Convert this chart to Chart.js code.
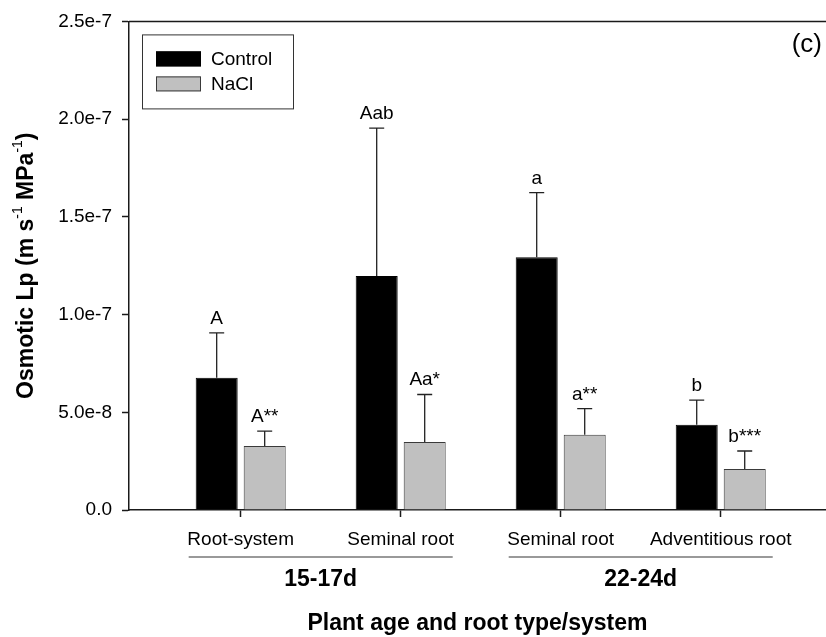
<!DOCTYPE html>
<html>
<head>
<meta charset="utf-8">
<script src="https://cdn.jsdelivr.net/npm/chart.js@4"></script>
<style>
  body { margin: 0; background: #fff; }
</style>
</head>
<body>
<canvas id="lpChart" width="826" height="637"></canvas>
<script>
// data
var categories = ["Root-system", "Seminal root", "Seminal root", "Adventitious root"];
var groups = ["15-17d", "22-24d"];
var groupOf = [0, 0, 1, 1];

var control = [6.77e-8, 1.197e-7, 1.293e-7, 4.36e-8];
var controlErr = [2.29e-8, 7.57e-8, 3.31e-8, 1.26e-8];
var controlLetters = ["A", "Aab", "a", "b"];

var nacl = [3.27e-8, 3.48e-8, 3.85e-8, 2.10e-8];
var naclErr = [0.77e-8, 2.43e-8, 1.34e-8, 0.92e-8];
var naclLetters = ["A**", "Aa*", "a**", "b***"];

var yTicks = [0, 5e-8, 1e-7, 1.5e-7, 2e-7, 2.5e-7];
var yTickLabels = ["0.0", "5.0e-8", "1.0e-7", "1.5e-7", "2.0e-7", "2.5e-7"];

var FONT = "'Liberation Sans', Arial, Helvetica, sans-serif";
var AXIS = "#1a1a1a";

function points(vals) {
  return vals.map(function(v, i) { return { x: i + 1, y: v }; });
}

// error bars, letters, legend, group labels, titles
var extras = {
  id: "extras",
  afterDatasetsDraw: function(chart) {
    var ctx = chart.ctx;
    var y = chart.scales.y;
    var sets = [[control, controlErr, controlLetters], [nacl, naclErr, naclLetters]];
    ctx.save();
    sets.forEach(function(s, d) {
      var meta = chart.getDatasetMeta(d);
      meta.data.forEach(function(bar, i) {
        var top = y.getPixelForValue(s[0][i] + s[1][i]);
        ctx.strokeStyle = "#222";
        ctx.lineWidth = 1.3;
        ctx.beginPath();
        ctx.moveTo(bar.x, bar.y);
        ctx.lineTo(bar.x, top);
        ctx.moveTo(bar.x - 7.5, top);
        ctx.lineTo(bar.x + 7.5, top);
        ctx.stroke();
        ctx.fillStyle = "#000";
        ctx.font = "19px " + FONT;
        ctx.textAlign = "center";
        ctx.textBaseline = "alphabetic";
        ctx.fillText(s[2][i], bar.x, top - 9);
      });
    });
    ctx.restore();
  },
  afterDraw: function(chart) {
    var ctx = chart.ctx;
    var a = chart.chartArea;
    var x = chart.scales.x;
    ctx.save();

    // top frame line
    ctx.strokeStyle = AXIS;
    ctx.lineWidth = 1.5;
    ctx.beginPath();
    ctx.moveTo(a.left, a.top);
    ctx.lineTo(a.right, a.top);
    ctx.stroke();

    // legend
    var lx = a.left + 13, ly = a.top + 13;
    ctx.lineWidth = 1;
    ctx.strokeStyle = "#333";
    ctx.strokeRect(lx + 0.5, ly + 0.5, 151, 74);
    chart.data.datasets.forEach(function(ds, d) {
      var sy = ly + 17 + d * 25;
      ctx.fillStyle = ds.backgroundColor;
      ctx.fillRect(lx + 14, sy, 45, 15);
      ctx.strokeStyle = ds.borderColor;
      ctx.strokeRect(lx + 14.5, sy + 0.5, 44, 14);
      ctx.fillStyle = "#000";
      ctx.font = "19px " + FONT;
      ctx.textAlign = "left";
      ctx.textBaseline = "middle";
      ctx.fillText(ds.label, lx + 69, sy + 8);
    });

    // group lines and labels
    groups.forEach(function(g, k) {
      var idx = [];
      groupOf.forEach(function(v, i) { if (v === k) idx.push(i + 1); });
      var x0 = x.getPixelForValue(idx[0] - 0.325);
      var x1 = x.getPixelForValue(idx[idx.length - 1] + 0.325);
      ctx.strokeStyle = "#777";
      ctx.lineWidth = 1.5;
      ctx.beginPath();
      ctx.moveTo(x0, a.bottom + 47);
      ctx.lineTo(x1, a.bottom + 47);
      ctx.stroke();
      ctx.fillStyle = "#000";
      ctx.font = "bold 23px " + FONT;
      ctx.textAlign = "center";
      ctx.textBaseline = "middle";
      ctx.fillText(g, (x0 + x1) / 2, a.bottom + 70);
    });

    // x title
    ctx.font = "bold 23px " + FONT;
    ctx.fillText("Plant age and root type/system", (a.left + a.right) / 2, a.bottom + 114);

    // y title with superscripts
    var parts = [["Osmotic Lp (m s", 0], ["-1", 1], [" MPa", 0], ["-1", 1], [")", 0]];
    var big = "bold 23px " + FONT, small = "14px " + FONT;
    var total = 0;
    parts.forEach(function(p) { ctx.font = p[1] ? small : big; total += ctx.measureText(p[0]).width; });
    ctx.translate(27, (a.top + a.bottom) / 2);
    ctx.rotate(-Math.PI / 2);
    ctx.textAlign = "left";
    ctx.textBaseline = "middle";
    var pos = -total / 2;
    parts.forEach(function(p) {
      ctx.font = p[1] ? small : big;
      ctx.fillText(p[0], pos, p[1] ? -9 : 0);
      pos += ctx.measureText(p[0]).width;
    });
    ctx.setTransform(1, 0, 0, 1, 0, 0);

    // panel tag
    ctx.font = "26px " + FONT;
    ctx.textAlign = "right";
    ctx.textBaseline = "middle";
    ctx.fillText("(c)", a.right - 4, a.top + 23);
    ctx.restore();
  }
};

var lpChart = new Chart("lpChart", {
  type: "bar",
  data: {
    datasets: [
      { label: "Control", data: points(control), backgroundColor: "#000000", borderColor: "#000000", borderWidth: 1 },
      { label: "NaCl", data: points(nacl), backgroundColor: "#c0c0c0", borderColor: "#3a3a3a", borderWidth: 1 }
    ]
  },
  options: {
    responsive: false,
    animation: false,
    categoryPercentage: 0.6,
    barPercentage: 0.875,
    layout: { padding: { top: 19, right: 0, bottom: 0, left: 0 } },
    plugins: { legend: { display: false }, tooltip: { enabled: false } },
    scales: {
      x: {
        type: "linear",
        offset: false,
        min: 0.302,
        max: 4.658,
        afterBuildTicks: function(scale) {
          scale.ticks = categories.map(function(c, i) { return { value: i + 1 }; });
        },
        afterFit: function(scale) { scale.height = 127; },
        ticks: {
          color: "#000",
          font: { family: FONT, size: 19 },
          padding: 11,
          maxRotation: 0,
          autoSkip: false,
          callback: function(v) { return categories[Math.round(v) - 1]; }
        },
        grid: { offset: false, drawOnChartArea: false, drawTicks: true, tickLength: 7, color: AXIS, tickWidth: 1.5 },
        border: { display: true, color: AXIS, width: 1.5 }
      },
      y: {
        min: 0,
        max: 2.5e-7,
        afterBuildTicks: function(scale) {
          scale.ticks = yTicks.map(function(v) { return { value: v }; });
        },
        afterFit: function(scale) { scale.width = 129; },
        ticks: {
          color: "#000",
          font: { family: FONT, size: 19 },
          padding: 10,
          callback: function(v, i) { return yTickLabels[i]; }
        },
        grid: { drawOnChartArea: false, drawTicks: true, tickLength: 7, color: AXIS, tickWidth: 1.5 },
        border: { display: true, color: AXIS, width: 1.5 }
      }
    }
  },
  plugins: [extras]
});
</script>
</body>
</html>
